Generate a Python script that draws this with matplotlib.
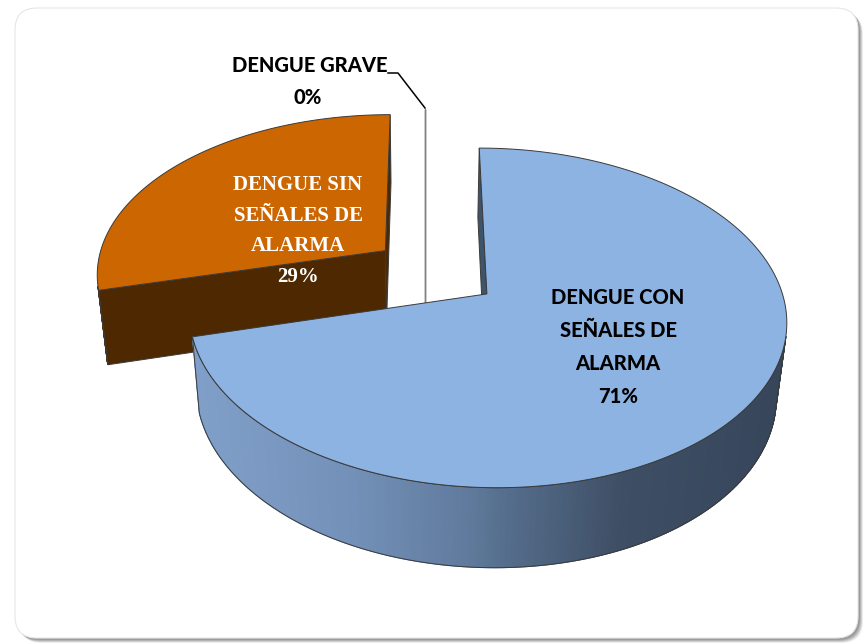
"""Exploded 3D pie: dengue cases by classification."""

import numpy as np
import matplotlib
matplotlib.use("Agg")
import matplotlib.pyplot as plt
from matplotlib.patches import Polygon, FancyBboxPatch
from matplotlib.colors import LinearSegmentedColormap

# data
categories = ["DENGUE CON\nSEÑALES DE\nALARMA", "DENGUE SIN\nSEÑALES DE\nALARMA", "DENGUE GRAVE"]
percent = [71, 29, 0]
explode = [0.265, 0.176, 0.155]

# style
top_colors = ["#8DB3E2", "#CC6600", "#FFFFFF"]
face_colors = ["#3F5369", "#4D2800", "#FFFFFF"]
wall_colors = [None, "#4D2800", "#FFFFFF"]
blue_wall = LinearSegmentedColormap.from_list(
    "wall", [(0, "#809FC8"), (0.26, "#7390B8"), (0.46, "#5F7A9C"), (0.51, "#56708F"),
             (0.72, "#3E4E64"), (1.0, "#36455A")])
EDGE = "#3a3a3a"
SANS = ["Lato", "DejaVu Sans"]
SERIF = ["Liberation Serif", "DejaVu Serif"]

# camera, in output pixels
W, H = 866, 643
CX, CY = 425, 267.5
ELEV = np.radians(33.4)
DIST = 6.05
FOCAL = 1748
THICK = 0.314
CAM = np.array([0.0, -DIST * np.cos(ELEV), DIST * np.sin(ELEV)])


def project(pts):
    pts = np.atleast_2d(np.asarray(pts, float))
    x, y, z = pts[:, 0], pts[:, 1], pts[:, 2]
    depth = DIST + y * np.cos(ELEV) - z * np.sin(ELEV)
    up = y * np.sin(ELEV) + z * np.cos(ELEV)
    return np.column_stack([CX + FOCAL * x / depth, CY - FOCAL * up / depth])


def unit(deg):
    t = np.radians(deg)
    return np.array([np.sin(t), np.cos(t), 0.0])


def visible(normal, point):
    return np.dot(normal, CAM - point) > 0


fig = plt.figure(figsize=(W / 100, H / 100), dpi=100)
ax = fig.add_axes([0, 0, 1, 1])
ax.set_xlim(0, W)
ax.set_ylim(H, 0)
ax.axis("off")

# rounded chart frame with a soft shadow
for off, a in [(5, 0.15), (4, 0.25), (3, 0.35), (2, 0.45)]:
    ax.add_patch(FancyBboxPatch((15 + off, 8 + off), 843, 630,
                                boxstyle="round,pad=0,rounding_size=22",
                                fc="#808080", ec="none", alpha=a))
ax.add_patch(FancyBboxPatch((15, 8), 843, 630, boxstyle="round,pad=0,rounding_size=22",
                            fc="white", ec="#e6e6e6", lw=0.8))

# slice angles, clockwise from 12 o'clock
ends = np.cumsum(percent) / sum(percent) * 360
starts = np.concatenate([[0], ends[:-1]])
down = np.array([0, 0, -THICK])

slices = []
for i in range(len(percent)):
    a0, a1 = starts[i], ends[i]
    origin = explode[i] * unit((a0 + a1) / 2)
    slices.append((origin[1], i, a0, a1, origin))

# back to front
for _, i, a0, a1, O in sorted(slices, key=lambda s: -s[0]):
    n = max(int(abs(a1 - a0) * 2), 2)
    th = np.linspace(a0, a1, n)
    rim = np.array([O + unit(t) for t in th])

    # radial faces
    for ang, nrm in [(a0, unit(a0 - 90)), (a1, unit(a1 + 90))]:
        if percent[i] > 0 and not visible(nrm, O):
            continue
        quad = [O, O + unit(ang), O + unit(ang) + down, O + down]
        ax.add_patch(Polygon(project(quad), closed=True, fc=face_colors[i],
                             ec=EDGE if percent[i] > 0 else "#808080",
                             lw=0.7 if percent[i] > 0 else 1.0, zorder=2))
        if percent[i] == 0:
            break

    # outer wall
    if percent[i] > 0:
        vis = []
        for k in range(n - 1):
            tm = (th[k] + th[k + 1]) / 2
            if visible(unit(tm), O + unit(tm)):
                vis.append(k)
        for k in vis:
            quad = [rim[k], rim[k + 1], rim[k + 1] + down, rim[k] + down]
            pq = project(quad)
            if wall_colors[i] is None:
                c = blue_wall(np.clip((pq[:, 0].mean() - 200) / 585, 0, 1))
            else:
                c = wall_colors[i]
            ax.add_patch(Polygon(pq, closed=True, fc=c, ec=c, lw=0.8, zorder=2))
        if vis:
            k0, k1 = vis[0], vis[-1] + 1
            outline = np.vstack([project(rim[k0:k1 + 1]), project(rim[k0:k1 + 1][::-1] + down)])
            ax.add_patch(Polygon(outline, closed=True, fc="none", ec=EDGE, lw=0.7, zorder=2))

        # top face
        top = np.vstack([[O], rim])
        ax.add_patch(Polygon(project(top), closed=True, fc=top_colors[i], ec=EDGE,
                             lw=0.7, zorder=2))

# labels
ax.text(618, 347, f"{categories[0]}\n{percent[0]}%", ha="center", va="center",
        family=SANS, weight="black", fontsize=14.5, color="black",
        linespacing=1.85, zorder=5)
ax.text(298, 231, f"{categories[1]}\n{percent[1]}%", ha="center", va="center",
        family=SERIF, weight="bold", fontsize=15, color="white",
        linespacing=1.7, zorder=5)
ax.text(310, 66, categories[2], ha="center", va="center",
        family=SANS, weight="black", fontsize=14.5, color="black", zorder=5)
ax.text(308, 97, f"{percent[2]}%", ha="center", va="center",
        family=SANS, weight="black", fontsize=14.5, color="black", zorder=5)
ax.plot([388, 398, 425], [73, 73, 108], color="black", lw=1.1, zorder=5)

fig.savefig("out.png", dpi=100)
